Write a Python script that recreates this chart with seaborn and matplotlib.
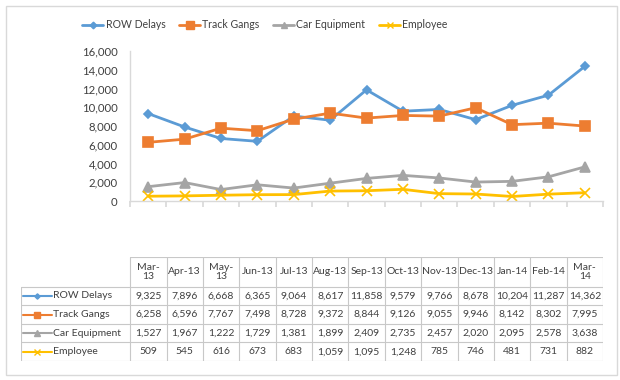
import numpy as np
import pandas as pd
import matplotlib
matplotlib.use("Agg")
import matplotlib.pyplot as plt
import seaborn as sns
from matplotlib.lines import Line2D
from matplotlib.patches import Rectangle
from matplotlib.ticker import FuncFormatter

# ---------------- data ----------------
months = ["Mar-13", "Apr-13", "May-13", "Jun-13", "Jul-13", "Aug-13", "Sep-13",
          "Oct-13", "Nov-13", "Dec-13", "Jan-14", "Feb-14", "Mar-14"]
header_labels = ["Mar-\n13", "Apr-13", "May-\n13", "Jun-13", "Jul-13", "Aug-13", "Sep-13",
                 "Oct-13", "Nov-13", "Dec-13", "Jan-14", "Feb-14", "Mar-\n14"]
series_names = ["ROW Delays", "Track Gangs", "Car Equipment", "Employee"]
row_delays = [9325, 7896, 6668, 6365, 9064, 8617, 11858, 9579, 9766, 8678, 10204, 11287, 14362]
track_gangs = [6258, 6596, 7767, 7498, 8728, 9372, 8844, 9126, 9055, 9946, 8142, 8302, 7995]
car_equipment = [1527, 1967, 1222, 1729, 1381, 1899, 2409, 2735, 2457, 2020, 2095, 2578, 3638]
employee = [509, 545, 616, 673, 683, 1059, 1095, 1248, 785, 746, 481, 731, 882]
y_ticks = [0, 2000, 4000, 6000, 8000, 10000, 12000, 14000, 16000]

series_values = [row_delays, track_gangs, car_equipment, employee]
colors = ["#5B9BD5", "#ED7D31", "#A5A5A5", "#FFC000"]
markers = ["D", "s", "^", "x"]
msizes = [4.5, 7, 6.5, 6.5]

df = pd.DataFrame({
    "idx": np.tile(np.arange(len(months)), len(series_names)),
    "month": months * len(series_names),
    "series": np.repeat(series_names, len(months)),
    "value": np.concatenate(series_values),
})

sns.set_theme(style="white")
plt.rcParams["font.family"] = ["Lato", "DejaVu Sans"]
text_color = "#404040"
grid_color = "#D9D9D9"

W, H = 620, 380
fig = plt.figure(figsize=(W / 100, H / 100), dpi=100)
fig.patch.set_facecolor("white")

# outer chart border
fig.patches.append(Rectangle((6 / W, 5 / H), 611 / W, 369 / H, transform=fig.transFigure,
                             fill=False, edgecolor=grid_color, linewidth=1))

# ---------------- main line chart ----------------
ax = fig.add_axes([130 / W, (H - 201) / H, 473 / W, 150 / H])
for name, col, mk, ms in zip(series_names, colors, markers, msizes):
    sub = df[df["series"] == name]
    sns.lineplot(data=sub, x="idx", y="value", ax=ax, color=col, marker=mk,
                 markersize=ms, markeredgecolor=col, markerfacecolor=col,
                 markeredgewidth=1.2, linewidth=2, legend=False)

ax.set_xlim(-0.5, len(months) - 0.5)
ax.set_ylim(0, 16000)
ax.set_yticks(y_ticks)
ax.yaxis.set_major_formatter(FuncFormatter(lambda v, p: f"{int(v):,}"))
ax.set_xticks(np.arange(-0.5, len(months), 1.0))
ax.set_xticklabels([])
ax.set_xlabel("")
ax.set_ylabel("")
for s in ["top", "right"]:
    ax.spines[s].set_visible(False)
for s in ["left", "bottom"]:
    ax.spines[s].set_color(grid_color)
    ax.spines[s].set_linewidth(1)
ax.tick_params(axis="y", length=0, labelsize=8.2, labelcolor=text_color, pad=9)
ax.tick_params(axis="x", length=4, color=grid_color, direction="out", bottom=True)
ax.set_facecolor("none")

# ---------------- legend ----------------
handles = [Line2D([0], [0], color=c, marker=m, markersize=ms * 0.75, markeredgecolor=c,
                  markerfacecolor=c, linewidth=2)
           for c, m, ms in zip(colors, markers, msizes)]
fig.legend(handles, series_names, loc="center", bbox_to_anchor=(265 / W, 1 - 25 / H),
           ncol=4, frameon=False, fontsize=7.6, labelcolor=text_color,
           handlelength=2.0, handletextpad=0.2, columnspacing=1.3)

# ---------------- data table ----------------
tax = fig.add_axes([21 / W, (H - 361) / H, 582 / W, 104 / H])
n = len(months)
tax.set_xlim(-3.5, n - 0.5)
header_h = 1.6
tax.set_ylim(0, 4 + header_h)
tax.axis("off")
lc = "#C8C8C8"
tfs = 7.5
# horizontal lines
tax.plot([-0.5, n - 0.5], [4 + header_h] * 2, color=lc, lw=0.8)
for yy in range(5):
    tax.plot([-3.5, n - 0.5], [yy, yy], color=lc, lw=0.8)
# vertical lines
tax.plot([-3.5, -3.5], [0, 4], color=lc, lw=0.8)
for xx in np.arange(-0.5, n, 1.0):
    tax.plot([xx, xx], [0, 4 + header_h], color=lc, lw=0.8)
# header
for i, lab in enumerate(header_labels):
    tax.text(i, 4 + header_h / 2, lab, ha="center", va="center", fontsize=tfs,
             color=text_color, linespacing=1.05)
# rows
for r, (name, vals, col, mk, ms) in enumerate(zip(series_names, series_values, colors, markers, msizes)):
    yc = 3 - r + 0.5
    tax.plot([-3.45, -2.65], [yc, yc], color=col, lw=1.5)
    tax.plot([-3.05], [yc], marker=mk, color=col, markersize=ms * 0.6,
             markeredgecolor=col, markerfacecolor=col)
    tax.text(-2.62, yc, name, ha="left", va="center", fontsize=tfs, color=text_color)
    for i, v in enumerate(vals):
        tax.text(i, yc, f"{v:,}", ha="center", va="center", fontsize=tfs, color=text_color)

fig.savefig("out.png", dpi=100)
